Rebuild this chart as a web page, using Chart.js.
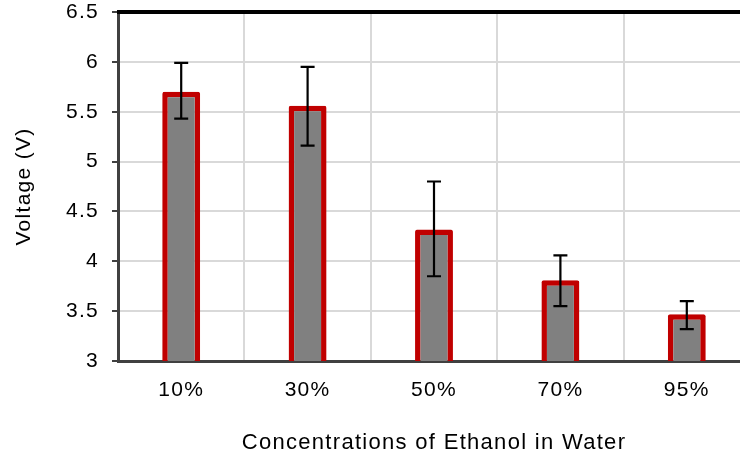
<!DOCTYPE html>
<html>
<head>
<meta charset="utf-8">
<script src="https://cdn.jsdelivr.net/npm/chart.js@4"></script>
<style>
  html, body { margin: 0; padding: 0; background: #fff; overflow: hidden; }
  #wrap { width: 740px; height: 459px; overflow: hidden; }
</style>
</head>
<body>
<div id="wrap"><canvas id="chart" width="750" height="459"></canvas></div>
<script>
/* 에탄올 농도별 전압 — 막대 + 오차막대 */
const categories = ['10%', '30%', '50%', '70%', '95%'];
const voltage = [5.70, 5.56, 4.32, 3.81, 3.47];
const errLow = [5.43, 5.16, 3.85, 3.55, 3.32];
const errHigh = [5.99, 5.95, 4.80, 4.06, 3.60];
const yTicks = [3, 3.5, 4, 4.5, 5, 5.5, 6, 6.5];

const FONT = 'Liberation Sans, Arial, sans-serif';
const GRID = '#d9d9d9', AXIS = '#404040';

// 원본은 글자 간격이 약간 넓다
const spacing = {
  id: 'spacing',
  beforeDraw(chart) { chart.ctx.letterSpacing = '1.3px'; }
};

// 오차막대: 스케일 좌표로 변환해서 그린다
const errorBars = {
  id: 'errorBars',
  afterDatasetsDraw(chart) {
    const { ctx, scales: { y } } = chart;
    const meta = chart.getDatasetMeta(0);
    ctx.save();
    ctx.strokeStyle = '#000';
    ctx.lineWidth = 2.2;
    meta.data.forEach((bar, i) => {
      const x = bar.x, top = y.getPixelForValue(errHigh[i]), bot = y.getPixelForValue(errLow[i]);
      ctx.beginPath();
      ctx.moveTo(x, top); ctx.lineTo(x, bot);
      ctx.moveTo(x - 7, top); ctx.lineTo(x + 7, top);
      ctx.moveTo(x - 7, bot); ctx.lineTo(x + 7, bot);
      ctx.stroke();
    });
    ctx.restore();
  }
};

// 위쪽 테두리 (검정 굵은 선)
const topBorder = {
  id: 'topBorder',
  afterDraw(chart) {
    const { ctx, chartArea: a } = chart;
    ctx.save();
    ctx.strokeStyle = '#000';
    ctx.lineWidth = 4;
    ctx.beginPath();
    ctx.moveTo(a.left - 1, a.top); ctx.lineTo(a.right, a.top);
    ctx.stroke();
    ctx.restore();
  }
};

new Chart(document.getElementById('chart'), {
  type: 'bar',
  data: {
    labels: categories,
    datasets: [{
      data: voltage,
      backgroundColor: '#808080',
      borderColor: '#c00000',
      borderWidth: 5.5,
      borderSkipped: false,
      borderRadius: 2,
      barPercentage: 0.3,
      categoryPercentage: 1,
    }],
  },
  options: {
    responsive: false,
    animation: false,
    layout: { padding: 0 },
    plugins: { legend: { display: false }, tooltip: { enabled: false } },
    scales: {
      x: {
        grid: { color: GRID, lineWidth: 2, drawTicks: false, offset: true },
        border: { color: AXIS, width: 3 },
        ticks: { color: '#000', font: { family: FONT, size: 21 }, padding: 17 },
        title: { display: true, text: 'Concentrations of Ethanol in Water', color: '#000',
                 font: { family: FONT, size: 22 }, padding: { top: 0, bottom: 3 } },
        afterFit: s => { s.height = 98; },
      },
      y: {
        min: 3, max: 6.5,
        afterBuildTicks: s => { s.ticks = yTicks.map(v => ({ value: v })); },
        grid: { color: GRID, lineWidth: 2, tickColor: AXIS, tickLength: 6 },
        border: { color: AXIS, width: 3 },
        ticks: { color: '#000', font: { family: FONT, size: 21 }, padding: 13, callback: v => String(v) },
        title: { display: true, text: 'Voltage (V)', color: '#000',
                 font: { family: FONT, size: 21 }, padding: { top: 12, bottom: 0 } },
        afterFit: s => { s.width = 118; s.paddingTop = 12; s.paddingBottom = 0; },
      },
    },
  },
  plugins: [spacing, errorBars, topBorder],
});
</script>
</body>
</html>
